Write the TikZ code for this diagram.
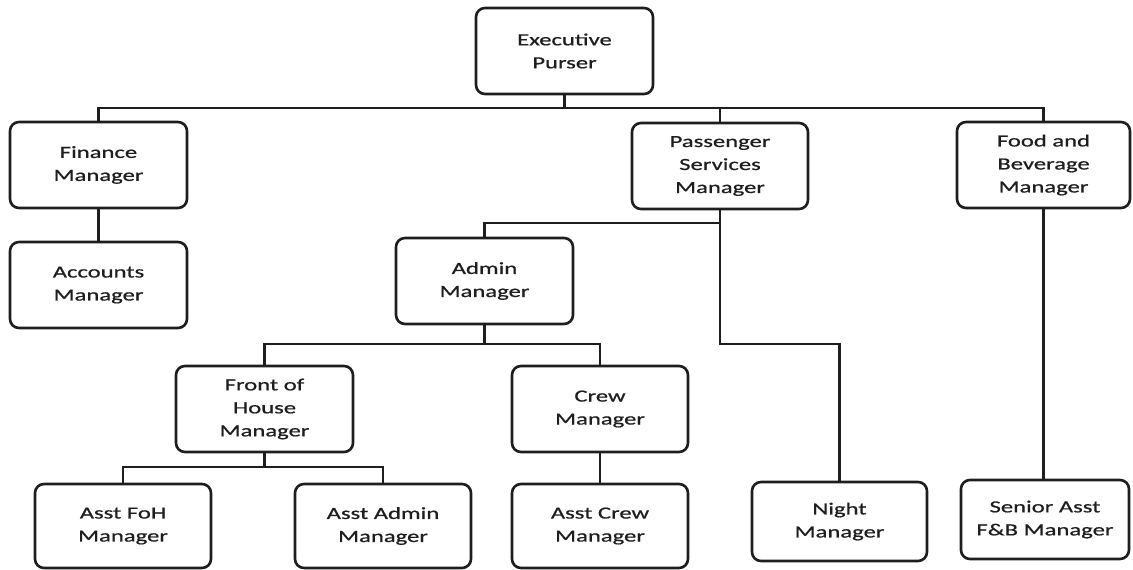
\documentclass[tikz,border=0pt]{standalone}
\usepackage{fontspec}
\setmainfont{Carlito}[FakeStretch=1.45,FakeBold=0.7]
\definecolor{ink}{HTML}{1E1E1E}
\begin{document}
\begin{tikzpicture}[x=1pt,y=-1pt,
  box/.style={draw=ink, line width=2.6pt, rounded corners=9pt, fill=white,
    minimum width=#1, inner sep=0pt, align=center, text=ink,
    font=\fontsize{17}{23}\selectfont},
  box/.default=177pt,
  conn/.style={draw=ink, line width=2.2pt}]
\useasboundingbox (0,0) rectangle (1133,570);
\node[box, minimum height=86pt] (exec) at (564.5,51) {Executive\\Purser};
\node[box, minimum height=86pt] (fin) at (98.5,165) {Finance\\Manager};
\node[box, minimum height=86pt] (acc) at (98.5,285) {Accounts\\Manager};
\node[box=176pt, minimum height=86pt] (pass) at (720,166) {Passenger\\Services\\Manager};
\node[box=173pt, minimum height=86pt] (fb) at (1043.5,165) {Food and\\Beverage\\Manager};
\node[box, minimum height=86pt] (admin) at (484.5,281) {Admin\\Manager};
\node[box, minimum height=86pt] (foh) at (264.5,409) {Front of\\House\\Manager};
\node[box=176pt, minimum height=86pt] (crew) at (600,409) {Crew\\Manager};
\node[box=176pt, minimum height=84pt] (afoh) at (123,526) {Asst FoH\\Manager};
\node[box=176pt, minimum height=84pt] (aadm) at (383,526) {Asst Admin\\Manager};
\node[box=176pt, minimum height=84pt] (acrew) at (600,526) {Asst Crew\\Manager};
\node[box=175pt, minimum height=79pt] (night) at (839.5,521.5) {Night\\Manager};
\node[box=168pt, minimum height=79pt] (senior) at (1045,519.5) {Senior Asst\\F\&B Manager};
\coordinate (bus) at (564.5,108);
\coordinate (psplit) at (720,223);
\coordinate (pnight) at (720,344);
\coordinate (asplit) at (484.5,344);
\coordinate (fsplit) at (264.5,467);
\draw[conn] (exec.south) -- (bus);
\draw[conn] (fin.north) |- (bus) -| (fb.north);
\draw[conn] (pass.north) -- (pass.north |- bus);
\draw[conn] (fin.south) -- (acc.north);
\draw[conn] (pass.south) -- (pnight) -| (night.north);
\draw[conn] (admin.north) |- (psplit);
\draw[conn] (admin.south) -- (asplit);
\draw[conn] (foh.north) |- (asplit) -| (crew.north);
\draw[conn] (foh.south) -- (fsplit);
\draw[conn] (afoh.north) |- (fsplit) -| (aadm.north);
\draw[conn] (crew.south) -- (acrew.north);
\draw[conn] (fb.south) -- (fb.south |- senior.north);
\end{tikzpicture}
\end{document}
